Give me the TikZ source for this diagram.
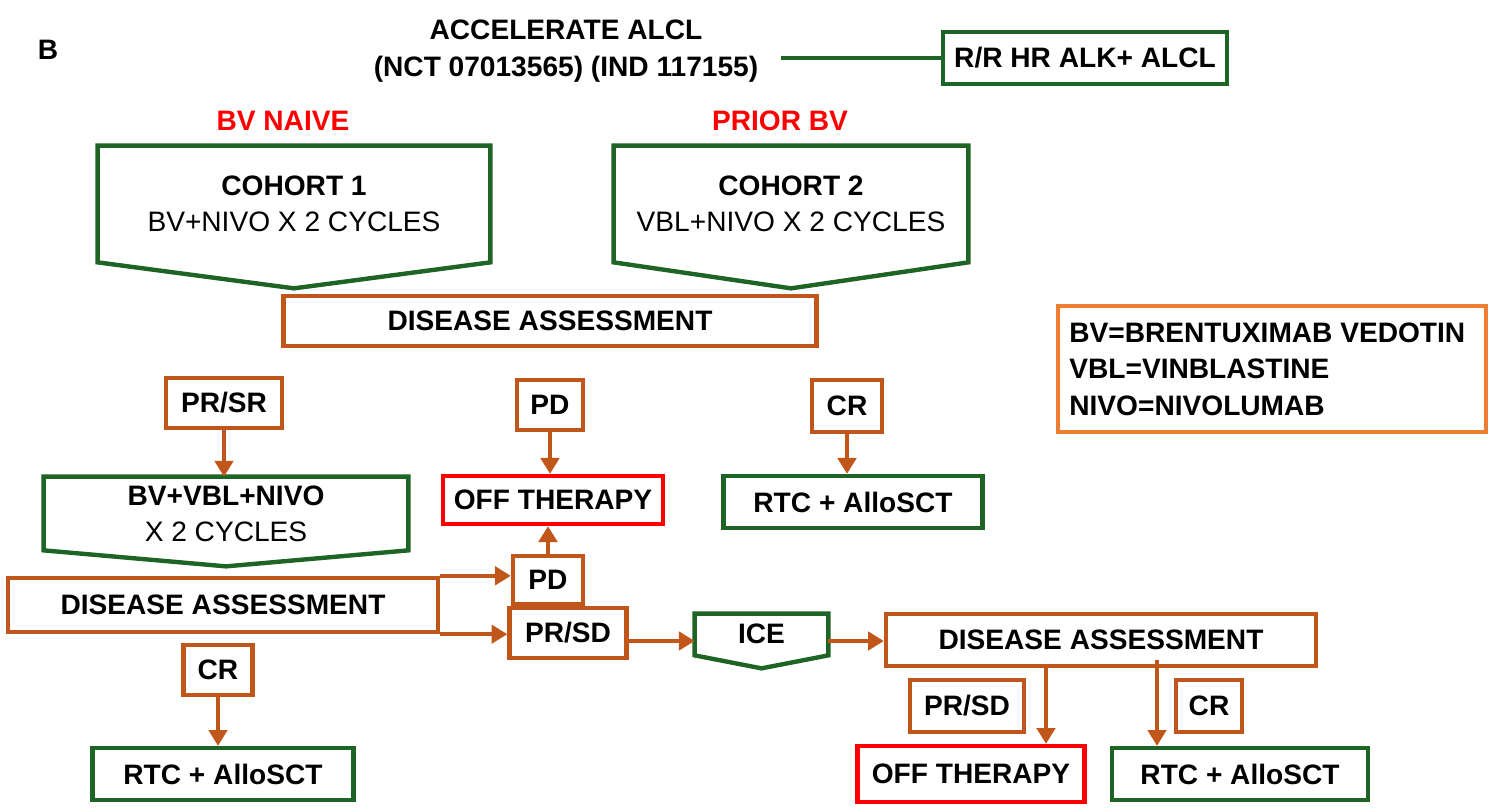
\documentclass[tikz,border=0pt]{standalone}
\usepackage{fontspec}
\setmainfont{Liberation Sans}
\usetikzlibrary{calc,arrows.meta}
\definecolor{grn}{HTML}{1E6425}
\definecolor{org}{HTML}{C0561A}
\definecolor{lorg}{HTML}{ED7D31}
\definecolor{rd}{HTML}{FF0000}
\begin{document}
\begin{tikzpicture}[x=0.02cm,y=-0.02cm,
  every node/.style={font=\fontsize{16}{20.5}\selectfont\bfseries, inner sep=0pt},
  sz/.style 2 args={minimum width=#1*0.02cm, minimum height=#2*0.02cm},
  box/.style={line width=2.5pt, align=center},
  gbox/.style={box, draw=grn},
  obox/.style={box, draw=org},
  rbox/.style={box, draw=rd},
  pent/.style={draw=grn, line width=2.5pt, line join=miter},
  lab/.style={text=rd},
  arr/.style={draw=org, line width=2pt, -{Triangle[length=9pt,width=10.5pt]}},
  gline/.style={draw=grn, line width=2.5pt}
]
\useasboundingbox (0,0) rectangle (1496,808);

% header
\node (B) at (48,50) {B};
\node[align=center, font=\fontsize{16}{21.5}\selectfont\bfseries] (title) at (566,51) {ACCELERATE ALCL\\(NCT 07013565) (IND 117155)};
\node[gbox, sz={284}{52}] (rr) at (1085,58) {R/R HR ALK+ ALCL};
\draw[gline] ($(title.east |- rr.west)+(22,0)$) -- (rr.west);

\node[lab] (bvn) at (283,121) {BV NAIVE};
\node[lab] (prior) at (780,121) {PRIOR BV};

% cohort pentagons
\node[sz={392}{142}] (c1) at (294,217) {};
\draw[pent] (c1.north west) -- (c1.north east) -- ($(c1.south east)+(0,-26)$) -- (c1.south) -- ($(c1.south west)+(0,-26)$) -- cycle;
\node[align=center] (c1t) at (294,204) {COHORT 1\\{\mdseries BV+NIVO X 2 CYCLES}};

\node[sz={354}{142}] (c2) at (791,217) {};
\draw[pent] (c2.north west) -- (c2.north east) -- ($(c2.south east)+(0,-26)$) -- (c2.south) -- ($(c2.south west)+(0,-26)$) -- cycle;
\node[align=center] (c2t) at (791,204) {COHORT 2\\{\mdseries VBL+NIVO X 2 CYCLES}};

\node[obox, sz={533}{50}] (da1) at (550,321) {DISEASE ASSESSMENT};

% legend
\node[draw=lorg, line width=2.5pt, sz={428}{126}] (leg) at (1272,369) {};
\node[anchor=west, align=left, font=\fontsize{16}{20.7}\selectfont\bfseries] (legt) at (1069,369)
  {BV=BRENTUXIMAB VEDOTIN\\VBL=VINBLASTINE\\NIVO=NIVOLUMAB};

% row of responses
\node[obox, sz={116}{50}] (prsr) at (224,403) {PR/SR};
\node[obox, sz={66}{50}] (pd1) at (550,405) {PD};
\node[obox, sz={70}{52}] (cr1) at (847,406) {CR};

\node[sz={364}{89}] (p3) at (226,521.5) {};
\draw[pent] (p3.north west) -- (p3.north east) -- ($(p3.south east)+(0,-16)$) -- (p3.south) -- ($(p3.south west)+(0,-16)$) -- cycle;
\node[align=center, font=\fontsize{16}{20.4}\selectfont\bfseries] (p3t) at (226,514) {BV+VBL+NIVO\\{\mdseries X 2 CYCLES}};

\node[rbox, sz={220}{48}] (off1) at (553,500) {OFF THERAPY};
\node[gbox, sz={259}{52}] (rtc1) at (853,502) {RTC + AlloSCT};

\draw[arr] (prsr.south) -- (prsr.south |- p3.north);
\draw[arr] (pd1.south) -- (pd1.south |- off1.north);
\draw[arr] (cr1.south) -- (cr1.south |- rtc1.north);

% second assessment
\node[obox, sz={430}{54}] (da2) at (223,605) {DISEASE ASSESSMENT};
\node[obox, sz={70}{48}] (pd2) at (548,580) {PD};
\node[obox, sz={117}{50}] (prsd2) at (568,633) {PR/SD};
\draw[arr] (da2.north east) -- (da2.north east -| pd2.west);
\draw[arr] (da2.south east) -- (da2.south east -| prsd2.west);
\draw[arr] (pd2.north) -- (pd2.north |- off1.south);

\node[obox, sz={69}{50}] (cr2) at (218,670) {CR};
\node[gbox, sz={261}{52}] (rtc2) at (223,774) {RTC + AlloSCT};
\draw[arr] (cr2.south) -- (cr2.south |- rtc2.north);

% ICE
\node[sz={133}{54}] (ice) at (761.5,641) {};
\draw[pent] (ice.north west) -- (ice.north east) -- ($(ice.south east)+(0,-13)$) -- (ice.south) -- ($(ice.south west)+(0,-13)$) -- cycle;
\node (icet) at (761.5,634) {ICE};
\draw[arr] (prsd2.east |- ice.west) -- (ice.west);

\node[obox, sz={430}{52}] (da3) at (1101,640) {DISEASE ASSESSMENT};
\draw[arr] (ice.east) -- (ice.east -| da3.west);

\node[obox, sz={114}{52}] (prsd3) at (967,706) {PR/SD};
\node[obox, sz={66}{52}] (cr3) at (1209,706) {CR};
\node[rbox, sz={227}{56}] (off2) at (971,774) {OFF THERAPY};
\node[gbox, sz={256}{52}] (rtc3) at (1240,774) {RTC + AlloSCT};
\coordinate (a1) at (1046,700);
\coordinate (a2) at (1157,660);
\draw[arr] (a1 |- da3.south) -- (a1 |- off2.north);
\draw[arr] (a2) -- (a2 |- rtc3.north);
\end{tikzpicture}
\end{document}
